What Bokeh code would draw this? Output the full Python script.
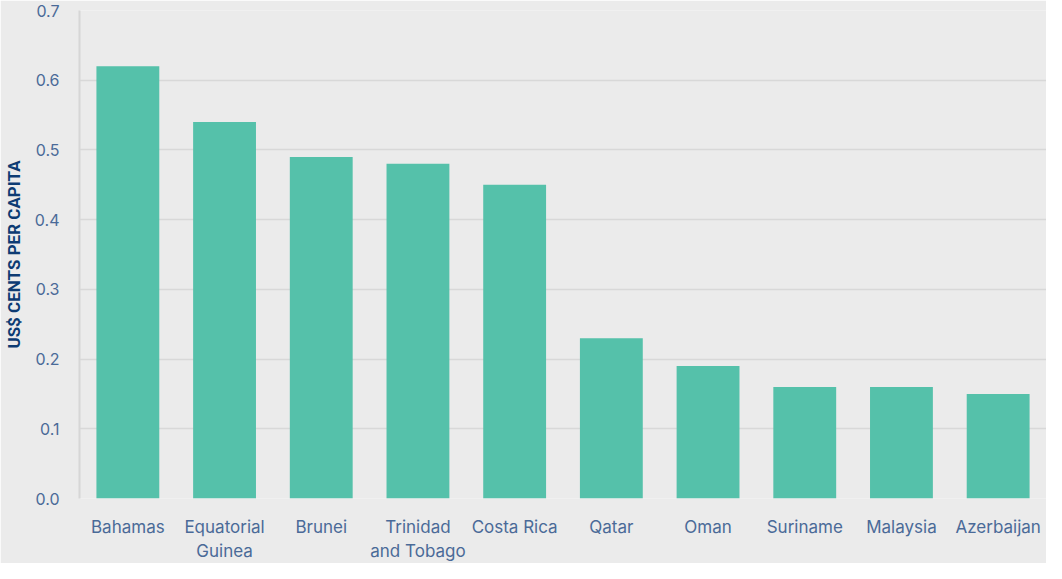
from bokeh.plotting import figure
from bokeh.models import Range1d, FixedTicker, NumeralTickFormatter
from bokeh.embed import file_html
from bokeh.resources import INLINE

countries = ["Bahamas", "Equatorial\nGuinea", "Brunei", "Trinidad\nand Tobago", "Costa Rica",
             "Qatar", "Oman", "Suriname", "Malaysia", "Azerbaijan"]
values = [0.62, 0.54, 0.49, 0.48, 0.45, 0.23, 0.19, 0.16, 0.16, 0.15]
y_ticks = [0.0, 0.1, 0.2, 0.3, 0.4, 0.5, 0.6, 0.7]
y_title = "US$ CENTS PER CAPITA"

BG = "#ebebeb"
p = figure(x_range=countries, y_range=Range1d(0, 0.7), width=1046, height=563,
           output_backend="svg", toolbar_location=None,
           background_fill_color=BG, border_fill_color=BG,
           min_border_left=10, min_border_right=0, min_border_top=10, min_border_bottom=55)
p.outline_line_color = None

p.vbar(x=countries, top=values, width=0.65, color="#55c1aa", line_color=None)

p.xgrid.grid_line_color = None
p.ygrid.grid_line_color = "#d8d8d8"
p.ygrid.grid_line_width = 1.5
p.yaxis.ticker = FixedTicker(ticks=y_ticks)
p.yaxis.formatter = NumeralTickFormatter(format="0.0")

for ax in (p.xaxis[0], p.yaxis[0]):
    ax.major_tick_line_color = None
    ax.minor_tick_line_color = None
    ax.major_label_text_color = "#4a6a98"
    ax.major_label_text_font = "Inter"
    ax.major_label_text_font_size = "16px"

p.xaxis.major_label_text_font_size = "17px"
p.xaxis.axis_line_color = None
p.xaxis.major_label_standoff = 12
p.yaxis.axis_line_color = "#d6d6d6"
p.yaxis.axis_line_width = 2
p.yaxis.major_label_standoff = 14
p.yaxis.axis_label = y_title
p.yaxis.axis_label_text_font = "Roboto"
p.yaxis.axis_label_text_font_style = "bold"
p.yaxis.axis_label_text_font_size = "17px"
p.yaxis.axis_label_text_color = "#0d3b73"
p.yaxis.axis_label_standoff = 8

open("out.html", "w").write(file_html(p, INLINE))
